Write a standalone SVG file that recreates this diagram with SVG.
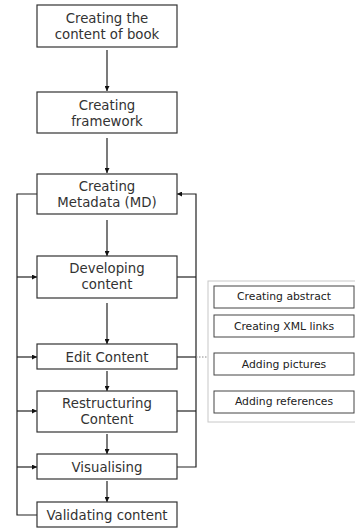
<svg xmlns="http://www.w3.org/2000/svg" width="355" height="528" viewBox="0 0 355 528">
<style>
.box{fill:#fff;stroke:#333;stroke-width:1.2}
.sub{fill:#fff;stroke:#444;stroke-width:1}
.t{font-family:"DejaVu Sans",Verdana,sans-serif;font-size:13.3px;fill:#333;text-anchor:middle}
.s{font-family:"DejaVu Sans",Verdana,sans-serif;font-size:10.8px;fill:#222;text-anchor:middle}
.ln{fill:none;stroke:#222;stroke-width:1.2}
</style>
<defs>
<marker id="ah" viewBox="0 0 10 10" refX="10" refY="5" markerWidth="5" markerHeight="5" orient="auto" markerUnits="userSpaceOnUse">
<path d="M0,0 L10,5 L0,10 Z" fill="#111"/>
</marker>
</defs>
<rect width="355" height="528" fill="#fff"/>
<g id="panel">
<rect x="208" y="281" width="150" height="141" fill="#fff" stroke="#c8c8c8" stroke-width="1"/>
</g>
<g id="connectors">
<line class="ln" x1="107" y1="50" x2="107" y2="91" marker-end="url(#ah)"/>
<line class="ln" x1="107" y1="138" x2="107" y2="173" marker-end="url(#ah)"/>
<line class="ln" x1="107" y1="220" x2="107" y2="256" marker-end="url(#ah)"/>
<line class="ln" x1="107" y1="303" x2="107" y2="344" marker-end="url(#ah)"/>
<line class="ln" x1="107" y1="371" x2="107" y2="391" marker-end="url(#ah)"/>
<line class="ln" x1="107" y1="434" x2="107" y2="454" marker-end="url(#ah)"/>
<line class="ln" x1="107" y1="481" x2="107" y2="502" marker-end="url(#ah)"/>
<polyline class="ln" points="37,194 17,194 17,515 37,515"/>
<line class="ln" x1="17" y1="277" x2="37" y2="277" marker-end="url(#ah)"/>
<line class="ln" x1="17" y1="357" x2="37" y2="357" marker-end="url(#ah)"/>
<line class="ln" x1="17" y1="411" x2="37" y2="411" marker-end="url(#ah)"/>
<line class="ln" x1="17" y1="467" x2="37" y2="467" marker-end="url(#ah)"/>
<polyline class="ln" points="177,467 196,467 196,194 177,194" marker-end="url(#ah)"/>
<line class="ln" x1="177" y1="277" x2="196" y2="277"/>
<line class="ln" x1="177" y1="357" x2="196" y2="357"/>
<line class="ln" x1="177" y1="411" x2="196" y2="411"/>
<line x1="196" y1="357" x2="208" y2="357" stroke="#888" stroke-width="1" stroke-dasharray="1.5,1.5"/>
</g>
<g id="n1"><rect class="box" x="37" y="5" width="140" height="42"/><text class="t" x="107" y="23">Creating the</text><text class="t" x="107" y="39">content of book</text></g>
<g id="n2"><rect class="box" x="37" y="92" width="140" height="41"/><text class="t" x="107" y="110">Creating</text><text class="t" x="107" y="126">framework</text></g>
<g id="n3"><rect class="box" x="37" y="174" width="140" height="40"/><text class="t" x="107" y="191">Creating</text><text class="t" x="107" y="207">Metadata (MD)</text></g>
<g id="n4"><rect class="box" x="37" y="256" width="140" height="42"/><text class="t" x="107" y="273">Developing</text><text class="t" x="107" y="289">content</text></g>
<g id="n5"><rect class="box" x="37" y="344" width="140" height="25"/><text class="t" x="107" y="362">Edit Content</text></g>
<g id="n6"><rect class="box" x="37" y="391" width="140" height="41"/><text class="t" x="107" y="408">Restructuring</text><text class="t" x="107" y="424">Content</text></g>
<g id="n7"><rect class="box" x="37" y="454" width="140" height="25"/><text class="t" x="107" y="472">Visualising</text></g>
<g id="n8"><rect class="box" x="37" y="502" width="140" height="25"/><text class="t" x="107" y="520">Validating content</text></g>
<g id="s1"><rect class="sub" x="214" y="286" width="140" height="22"/><text class="s" x="284" y="300">Creating abstract</text></g>
<g id="s2"><rect class="sub" x="214" y="315" width="140" height="22"/><text class="s" x="284" y="330">Creating XML links</text></g>
<g id="s3"><rect class="sub" x="214" y="353" width="140" height="22"/><text class="s" x="284" y="368">Adding pictures</text></g>
<g id="s4"><rect class="sub" x="214" y="391" width="140" height="22"/><text class="s" x="284" y="405">Adding references</text></g>
</svg>
